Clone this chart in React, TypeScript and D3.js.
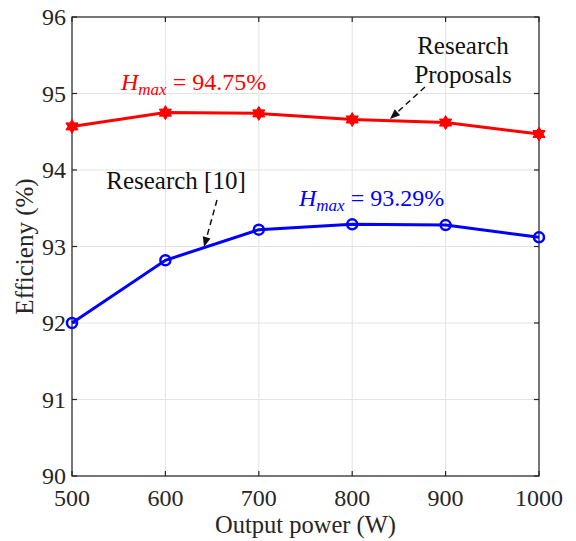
import { useEffect, useRef } from "react";
import * as d3 from "d3";

const power = [500, 600, 700, 800, 900, 1000];
const proposed = [94.57, 94.75, 94.74, 94.66, 94.62, 94.47];
const research10 = [92.0, 92.82, 93.22, 93.29, 93.28, 93.12];
const xTicks = [500, 600, 700, 800, 900, 1000];
const yTicks = [90, 91, 92, 93, 94, 95, 96];

const FONT = "Liberation Serif";

export default function App() {
  const ref = useRef<SVGSVGElement | null>(null);

  useEffect(() => {
    const svg = d3.select(ref.current);
    svg.selectAll("*").remove();

    const margin = { top: 17, right: 37, bottom: 65, left: 72 };
    const width = 576;
    const height = 541;

    const x = d3.scaleLinear().domain([500, 1000]).range([margin.left, width - margin.right]);
    const y = d3.scaleLinear().domain([90, 96]).range([height - margin.bottom, margin.top]);

    svg.append("rect").attr("width", width).attr("height", height).attr("fill", "#fff");

    // grid
    const grid = svg.append("g").attr("stroke", "#e3e3e3").attr("stroke-width", 1);
    grid
      .selectAll(".gx")
      .data(xTicks)
      .join("line")
      .attr("x1", (d) => x(d))
      .attr("x2", (d) => x(d))
      .attr("y1", y(90))
      .attr("y2", y(96));
    grid
      .selectAll(".gy")
      .data(yTicks)
      .join("line")
      .attr("x1", x(500))
      .attr("x2", x(1000))
      .attr("y1", (d) => y(d))
      .attr("y2", (d) => y(d));

    // box + inner ticks
    svg
      .append("rect")
      .attr("x", x(500))
      .attr("y", y(96))
      .attr("width", x(1000) - x(500))
      .attr("height", y(90) - y(96))
      .attr("fill", "none")
      .attr("stroke", "#262626")
      .attr("stroke-width", 1.2);

    const tl = 5;
    const ticks = svg.append("g").attr("stroke", "#262626").attr("stroke-width", 1.2);
    xTicks.forEach((t) => {
      ticks.append("line").attr("x1", x(t)).attr("x2", x(t)).attr("y1", y(90)).attr("y2", y(90) - tl);
      ticks.append("line").attr("x1", x(t)).attr("x2", x(t)).attr("y1", y(96)).attr("y2", y(96) + tl);
    });
    yTicks.forEach((t) => {
      ticks.append("line").attr("x1", x(500)).attr("x2", x(500) + tl).attr("y1", y(t)).attr("y2", y(t));
      ticks.append("line").attr("x1", x(1000)).attr("x2", x(1000) - tl).attr("y1", y(t)).attr("y2", y(t));
    });

    // tick labels
    svg
      .selectAll(".xl")
      .data(xTicks)
      .join("text")
      .attr("x", (d) => x(d))
      .attr("y", y(90) + 30)
      .attr("text-anchor", "middle")
      .attr("font-family", FONT)
      .attr("font-size", 24)
      .attr("fill", "#262626")
      .text((d) => d);
    svg
      .selectAll(".yl")
      .data(yTicks)
      .join("text")
      .attr("x", x(500) - 6)
      .attr("y", (d) => y(d) + 8)
      .attr("text-anchor", "end")
      .attr("font-family", FONT)
      .attr("font-size", 24)
      .attr("fill", "#262626")
      .text((d) => d);

    svg
      .append("text")
      .attr("x", (x(500) + x(1000)) / 2)
      .attr("y", 533)
      .attr("text-anchor", "middle")
      .attr("font-family", FONT)
      .attr("font-size", 24.5)
      .attr("fill", "#262626")
      .text("Output power (W)");
    svg
      .append("text")
      .attr("transform", `translate(33,${(y(90) + y(96)) / 2}) rotate(-90)`)
      .attr("text-anchor", "middle")
      .attr("font-family", FONT)
      .attr("font-size", 25)
      .attr("fill", "#262626")
      .text("Efficieny (%)");

    const line = d3
      .line<number>()
      .x((_, i) => x(power[i]))
      .y((d) => y(d));

    // red series
    svg
      .append("path")
      .datum(proposed)
      .attr("d", line)
      .attr("fill", "none")
      .attr("stroke", "#ff0000")
      .attr("stroke-width", 3);

    const star = (r: number) => {
      const pts: [number, number][] = [];
      for (let i = 0; i < 12; i++) {
        const a = (Math.PI / 6) * i - Math.PI / 2;
        const rr = i % 2 === 0 ? r : r * 0.58;
        pts.push([rr * Math.cos(a), rr * Math.sin(a)]);
      }
      return "M" + pts.map((p) => p.join(",")).join("L") + "Z";
    };
    svg
      .selectAll(".star")
      .data(proposed)
      .join("path")
      .attr("transform", (d, i) => `translate(${x(power[i])},${y(d)})`)
      .attr("d", star(7))
      .attr("fill", "#ff0000")
      .attr("stroke", "#ff0000")
      .attr("stroke-width", 1);

    // blue series
    svg
      .append("path")
      .datum(research10)
      .attr("d", line)
      .attr("fill", "none")
      .attr("stroke", "#0000ff")
      .attr("stroke-width", 3);
    svg
      .selectAll(".circ")
      .data(research10)
      .join("circle")
      .attr("cx", (_, i) => x(power[i]))
      .attr("cy", (d) => y(d))
      .attr("r", 5)
      .attr("fill", "none")
      .attr("stroke", "#0000ff")
      .attr("stroke-width", 2.5);

    // annotations
    const hmax = (tx: number, ty: number, val: string, color: string) => {
      const t = svg
        .append("text")
        .attr("x", tx)
        .attr("y", ty)
        .attr("font-family", FONT)
        .attr("font-size", 24)
        .attr("fill", color);
      t.append("tspan").attr("font-style", "italic").text("H");
      t.append("tspan").attr("font-style", "italic").attr("font-size", 17).attr("dy", 5).text("max");
      t.append("tspan").attr("dy", -5).text(` = ${val}%`);
    };
    hmax(121, 90, "94.75", "#ff0000");
    hmax(299, 206, "93.29", "#0000ff");

    const label = (tx: number, ty: number, s: string) =>
      svg
        .append("text")
        .attr("x", tx)
        .attr("y", ty)
        .attr("text-anchor", "middle")
        .attr("font-family", FONT)
        .attr("font-size", 25)
        .attr("fill", "#111")
        .text(s);
    label(463, 54, "Research");
    label(463, 83, "Proposals");
    label(176, 189, "Research [10]");

    const arrow = (x1: number, y1: number, x2: number, y2: number) => {
      const ang = Math.atan2(y2 - y1, x2 - x1);
      const hl = 10;
      const bx = x2 - hl * Math.cos(ang);
      const by = y2 - hl * Math.sin(ang);
      svg
        .append("line")
        .attr("x1", x1)
        .attr("y1", y1)
        .attr("x2", bx)
        .attr("y2", by)
        .attr("stroke", "#111")
        .attr("stroke-width", 1.5)
        .attr("stroke-dasharray", "6,4");
      const px = -Math.sin(ang) * 4;
      const py = Math.cos(ang) * 4;
      svg
        .append("path")
        .attr("d", `M${x2},${y2}L${bx + px},${by + py}L${bx - px},${by - py}Z`)
        .attr("fill", "#111");
    };
    arrow(425, 87, 390, 119);
    arrow(217, 200, 204, 247);
  }, []);

  return (
    <svg
      ref={ref}
      width={576}
      height={541}
      style={{ position: "absolute", left: 0, top: 0, display: "block" }}
    />
  );
}
